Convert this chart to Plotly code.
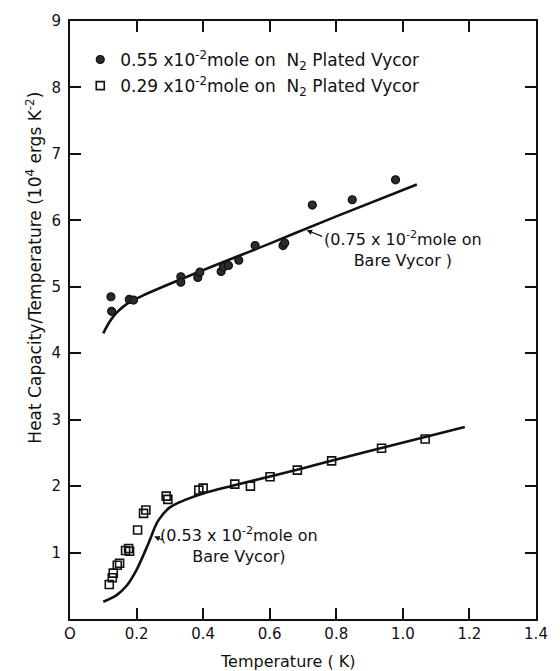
import plotly.graph_objects as go

# Measured points: 0.55e-2 mole on N2-plated Vycor (filled circles)
t_plated_055 = [0.123, 0.125, 0.178, 0.191, 0.333, 0.333, 0.384, 0.390, 0.454,
                0.461, 0.476, 0.507, 0.556, 0.640, 0.645, 0.728, 0.848, 0.978]
c_plated_055 = [4.85, 4.63, 4.81, 4.80, 5.15, 5.07, 5.14, 5.22, 5.23,
                5.30, 5.32, 5.40, 5.62, 5.62, 5.66, 6.23, 6.31, 6.61]

# Measured points: 0.29e-2 mole on N2-plated Vycor (open squares)
t_plated_029 = [0.118, 0.127, 0.130, 0.142, 0.149, 0.167, 0.176, 0.179, 0.203,
                0.221, 0.228, 0.289, 0.294, 0.387, 0.400, 0.495, 0.542, 0.601,
                0.683, 0.786, 0.936, 1.067]
c_plated_029 = [0.52, 0.62, 0.69, 0.81, 0.84, 1.03, 1.06, 1.02, 1.34,
                1.59, 1.64, 1.85, 1.80, 1.94, 1.97, 2.03, 2.00, 2.14,
                2.24, 2.38, 2.57, 2.71]

# Reference curves for bare Vycor
t_bare_075 = [0.100, 0.120, 0.140, 0.170, 0.220, 0.400, 0.600, 0.800, 1.042]
c_bare_075 = [4.30, 4.48, 4.61, 4.74, 4.87, 5.25, 5.65, 6.06, 6.54]

t_bare_053 = [0.100, 0.140, 0.170, 0.200, 0.235, 0.265, 0.300, 0.350, 0.400,
              0.500, 0.700, 0.900, 1.186]
c_bare_053 = [0.26, 0.36, 0.50, 0.74, 1.13, 1.48, 1.68, 1.80, 1.89,
              2.02, 2.27, 2.53, 2.89]

x_ticks = [0, 0.2, 0.4, 0.6, 0.8, 1.0, 1.2, 1.4]
x_tick_text = ["O", "0.2", "0.4", "0.6", "0.8", "1.0", "1.2", "1.4"]
y_ticks = list(range(0, 10))
y_tick_text = [""] + [str(v) for v in range(1, 10)]

FONT = "DejaVu Sans"
INK = "#111111"

fig = go.Figure()

fig.add_trace(go.Scatter(
    x=t_bare_075, y=c_bare_075, mode="lines", line=dict(color=INK, width=2.6, shape="spline"),
    showlegend=False, hoverinfo="skip"))
fig.add_trace(go.Scatter(
    x=t_bare_053, y=c_bare_053, mode="lines", line=dict(color=INK, width=2.6, shape="spline"),
    showlegend=False, hoverinfo="skip"))

fig.add_trace(go.Scatter(
    x=t_plated_055, y=c_plated_055, mode="markers",
    name="0.55 x10<sup>-2</sup>mole on  N<sub>2</sub> Plated Vycor",
    legendgroup="a",
    marker=dict(symbol="circle", size=8, color="#2b2b2b", line=dict(color=INK, width=1.2))))
fig.add_trace(go.Scatter(
    x=t_plated_029, y=c_plated_029, mode="markers",
    name="0.29 x10<sup>-2</sup>mole on  N<sub>2</sub> Plated Vycor",
    legendgroup="b",
    marker=dict(symbol="square-open", size=8, color=INK, line=dict(width=1.6))))

# Curve labels
fig.add_annotation(x=1.0, y=5.57, xref="x", yref="y", showarrow=False,
                   text="(0.75 x 10<sup>-2</sup>mole on<br>Bare Vycor )",
                   font=dict(family=FONT, size=16, color=INK), align="center")
fig.add_annotation(x=0.711, y=5.85, ax=0.762, ay=5.75, xref="x", yref="y",
                   axref="x", ayref="y", text="", showarrow=True,
                   arrowhead=2, arrowsize=0.9, arrowwidth=1.2, arrowcolor=INK)

fig.add_annotation(x=0.508, y=1.12, xref="x", yref="y", showarrow=False,
                   text="(0.53 x 10<sup>-2</sup>mole on<br>Bare Vycor)",
                   font=dict(family=FONT, size=16, color=INK), align="center")
fig.add_annotation(x=0.253, y=1.24, ax=0.283, ay=1.18, xref="x", yref="y",
                   axref="x", ayref="y", text="", showarrow=True,
                   arrowhead=2, arrowsize=0.9, arrowwidth=1.2, arrowcolor=INK)

# Axis titles
fig.add_annotation(x=0.468, y=-0.071, xref="paper", yref="paper", showarrow=False,
                   text="Temperature ( K)", font=dict(family=FONT, size=16, color=INK),
                   xanchor="center", yanchor="middle")
fig.add_annotation(x=-0.078, y=0.587, xref="paper", yref="paper", showarrow=False,
                   text="Heat Capacity/Temperature (10<sup>4</sup> ergs K<sup>-2</sup>)",
                   textangle=-90, font=dict(family=FONT, size=17, color=INK),
                   xanchor="center", yanchor="middle")

axis_common = dict(showgrid=False, zeroline=False, showline=True, linecolor=INK,
                   linewidth=2, mirror="ticks", ticks="inside", ticklen=11,
                   tickwidth=1.6, tickcolor=INK,
                   tickfont=dict(family=FONT, size=15, color=INK))

fig.update_xaxes(range=[0, 1.4], tickvals=x_ticks, ticktext=x_tick_text, **axis_common)
fig.update_yaxes(range=[0, 9], tickvals=y_ticks, ticktext=y_tick_text, ticklabelstandoff=4,
                 **axis_common)

fig.update_layout(
    width=560, height=671,
    margin=dict(l=70, r=14, t=16, b=52),
    paper_bgcolor="white", plot_bgcolor="white",
    font=dict(family=FONT, color=INK),
    legend=dict(x=0.022, y=0.965, xanchor="left", yanchor="top",
                font=dict(family=FONT, size=17, color=INK),
                bgcolor="rgba(0,0,0,0)", tracegroupgap=1, traceorder="grouped",
                itemwidth=30),
)

fig.write_html("out.html")
